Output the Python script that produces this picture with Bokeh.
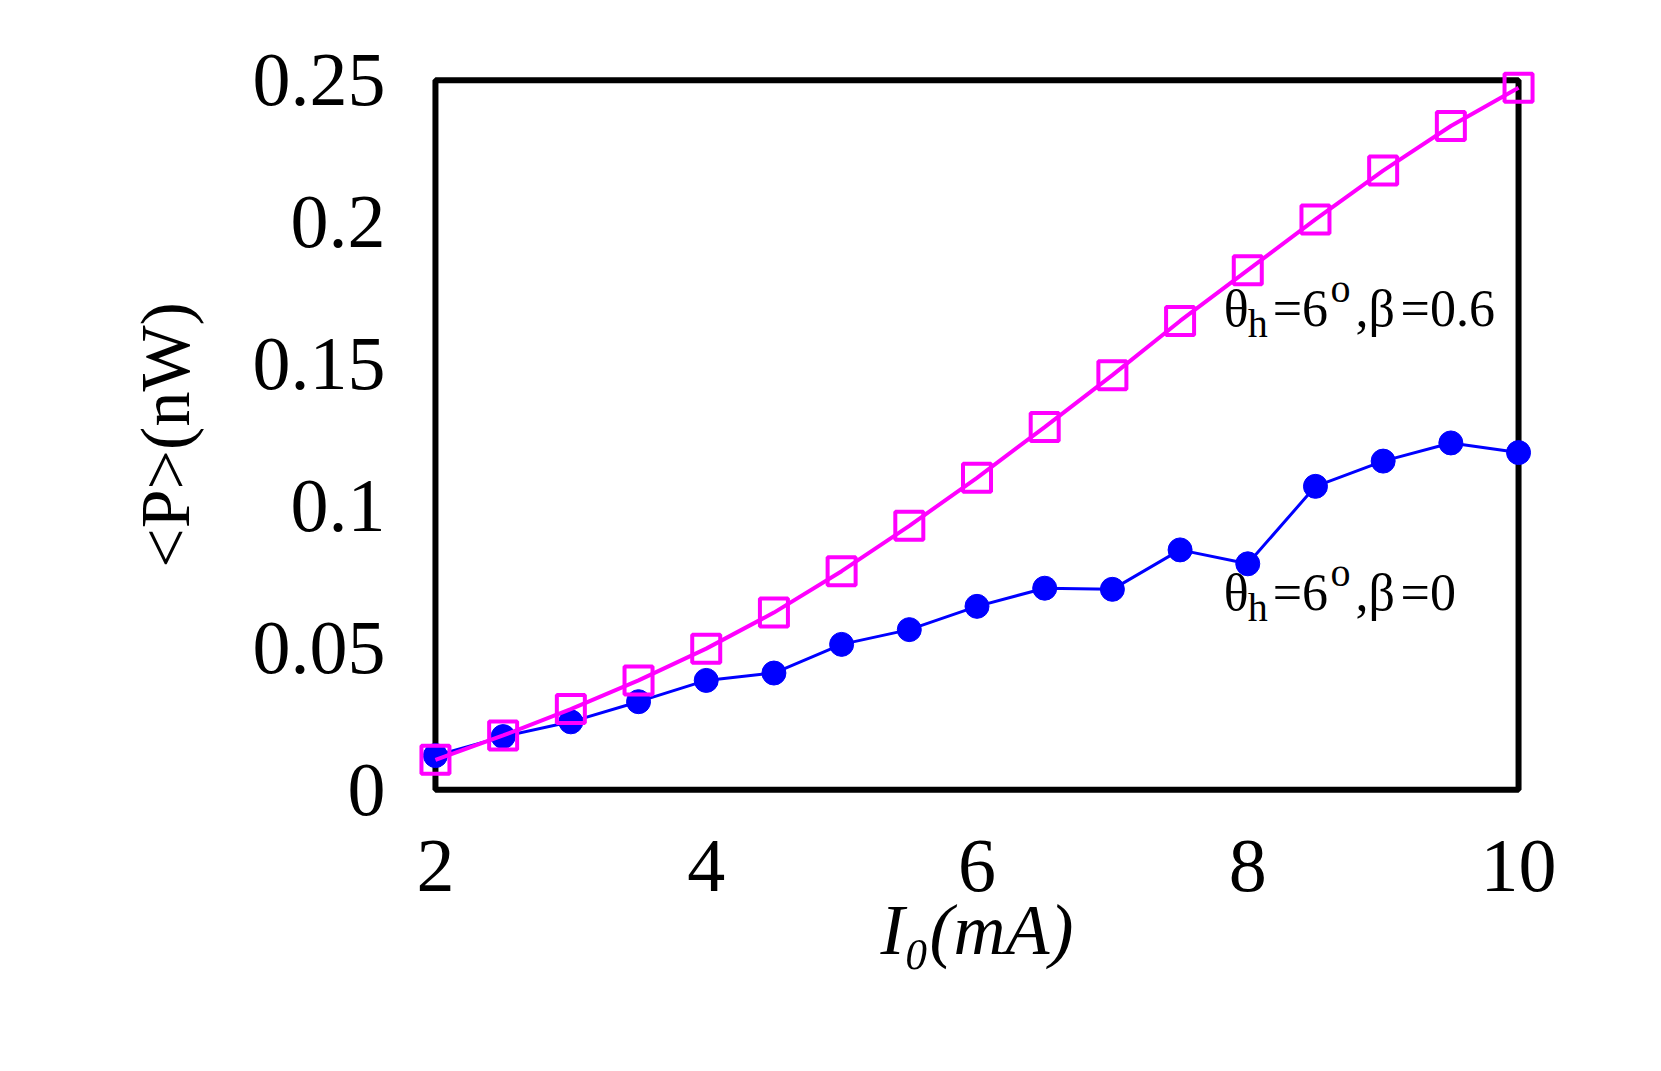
from bokeh.plotting import figure
from bokeh.models import Label, FixedTicker, Range1d
from bokeh.embed import file_html
from bokeh.resources import INLINE

# ---- data ----
current = [2.0, 2.5, 3.0, 3.5, 4.0, 4.5, 5.0, 5.5, 6.0, 6.5, 7.0, 7.5, 8.0, 8.5, 9.0, 9.5, 10.0]
power_beta0 = [0.0120, 0.0187, 0.0239, 0.0310, 0.0385, 0.0411, 0.0512, 0.0564, 0.0646,
               0.0710, 0.0706, 0.0845, 0.0796, 0.1069, 0.1158, 0.1222, 0.1188]
power_beta06 = [0.0105, 0.0191, 0.0284, 0.0385, 0.0497, 0.0624, 0.0770, 0.0930, 0.1099,
                0.1278, 0.1461, 0.1652, 0.1831, 0.2010, 0.2182, 0.2339, 0.2474]
x_ticks = [2, 4, 6, 8, 10]
y_ticks = [0, 0.05, 0.1, 0.15, 0.2, 0.25]
y_tick_labels = ["0", "0.05", "0.1", "0.15", "0.2", "0.25"]

FONT = "Liberation Serif"

p = figure(frame_width=1121, frame_height=749,
           x_range=Range1d(1.86, 10.14), y_range=Range1d(-0.007, 0.257),
           output_backend="svg", toolbar_location=None,
           min_border_left=416, min_border_top=60, min_border_right=100, min_border_bottom=230)
p.outline_line_color = None
p.grid.visible = False
p.background_fill_color = "white"
p.border_fill_color = "white"

for ax in (p.xaxis[0], p.yaxis[0]):
    ax.axis_line_color = None
    ax.major_tick_line_color = None
    ax.minor_tick_line_color = None
    ax.major_label_text_font = FONT
    ax.major_label_text_font_size = "76px"
    ax.major_label_text_color = "black"
    ax.axis_label_text_font = FONT
    ax.axis_label_text_color = "black"

p.xaxis.ticker = FixedTicker(ticks=x_ticks)
p.yaxis.ticker = FixedTicker(ticks=y_ticks)
p.yaxis.major_label_overrides = {t: l for t, l in zip(y_ticks, y_tick_labels)}
p.xaxis.major_label_standoff = 25
p.yaxis.major_label_standoff = 25

p.xaxis.axis_label = "I\u2080(mA)"
p.xaxis.axis_label_text_font_style = "italic"
p.xaxis.axis_label_text_font_size = "72px"
p.xaxis.axis_label_standoff = -4

p.yaxis.axis_label = "<P>(nW)"
p.yaxis.axis_label_text_font_style = "normal"
p.yaxis.axis_label_text_font_size = "70px"
p.yaxis.axis_label_standoff = 46

# frame box at the axis limits
p.quad(left=[x_ticks[0]], right=[x_ticks[-1]], bottom=[y_ticks[0]], top=[y_ticks[-1]],
       fill_color=None, line_color="black", line_width=6)

# series
p.line(current, power_beta0, line_color="#0000FF", line_width=3)
p.scatter(current, power_beta0, marker="circle", size=24, fill_color="#0000FF", line_color="#0000FF")
p.line(current, power_beta06, line_color="#FF00FF", line_width=4)
p.scatter(current, power_beta06, marker="square", size=28, fill_color=None,
          line_color="#FF00FF", line_width=4)

def lab(x, y, text, size):
    p.add_layout(Label(x=x, y=y, text=text, text_font=FONT, text_font_size=size,
                       text_color="black", text_align="left", text_baseline="alphabetic"))

# annotations
for yb, tail in ((0.16943, "=0.6"), (0.06964, "=0")):
    lab(7.8218, yb, "\u03b8", "52px")
    lab(7.9990, yb - 0.00529, "h", "40px")
    lab(8.1836, yb, "=6", "52px")
    lab(8.6118, yb + 0.00705, "o", "40px")
    lab(8.7964, yb, ",\u03b2", "52px")
    lab(9.1287, yb, tail, "52px")

open("out.html", "w").write(file_html(p, INLINE))
